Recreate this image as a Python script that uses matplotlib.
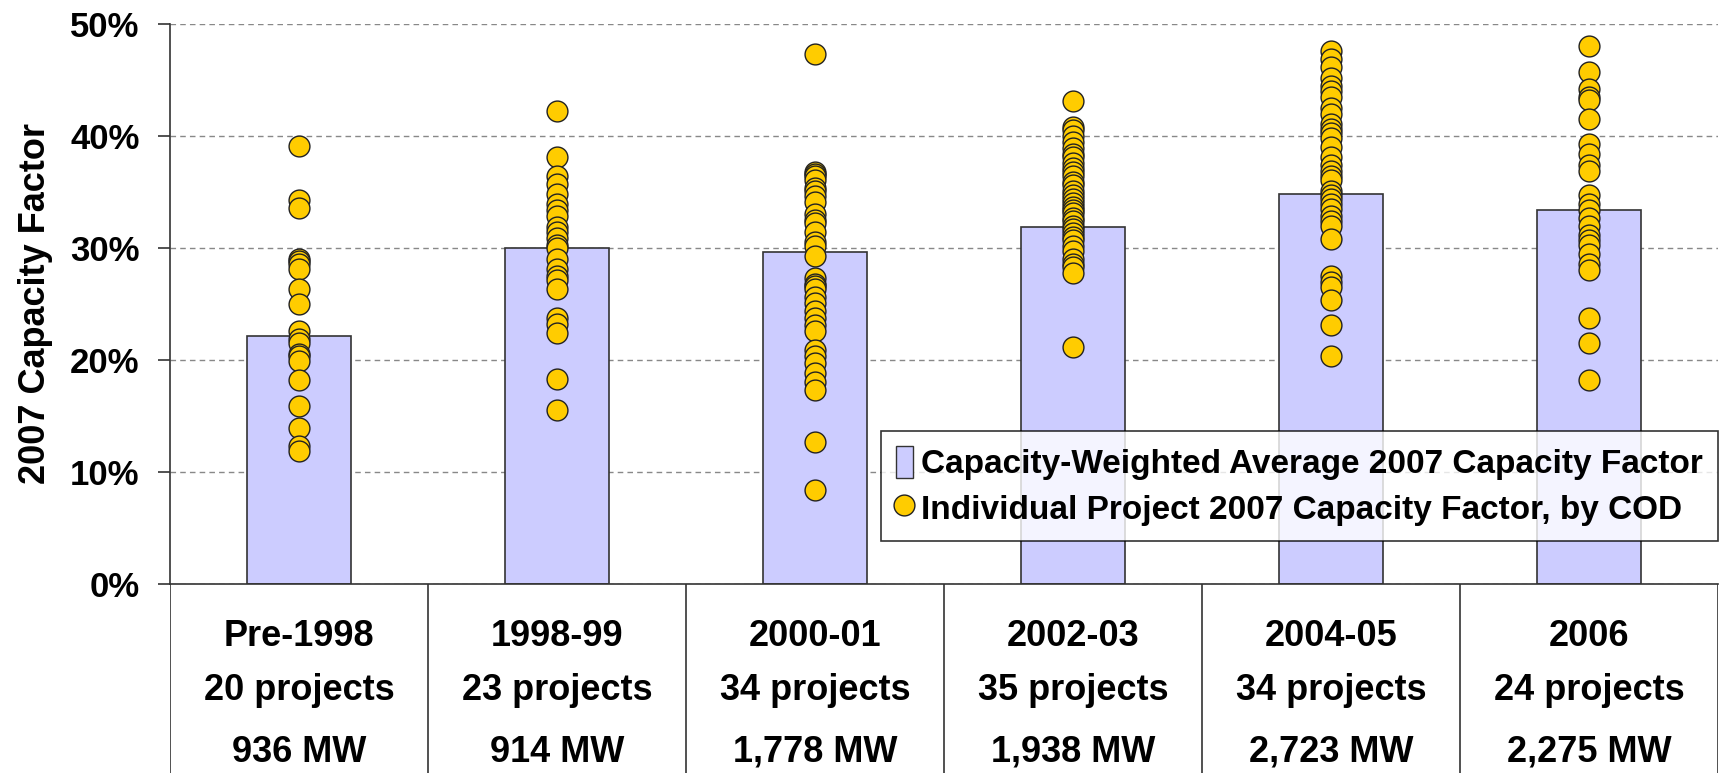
import matplotlib
matplotlib.use('Agg')
import matplotlib.pyplot as plt
from matplotlib.ticker import FuncFormatter
from matplotlib.lines import Line2D
from matplotlib.patches import Patch

plt.rcParams['font.family'] = ['Liberation Sans', 'DejaVu Sans']
plt.rcParams['font.weight'] = 'bold'

periods = ['Pre-1998', '1998-99', '2000-01', '2002-03', '2004-05', '2006']
projectCounts = ['20 projects', '23 projects', '34 projects', '35 projects', '34 projects', '24 projects']
capacities = ['936 MW', '914 MW', '1,778 MW', '1,938 MW', '2,723 MW', '2,275 MW']

# capacity-weighted average (bars), in percent
weightedAvg = [22.1, 30.0, 29.6, 31.9, 34.8, 33.4]

# individual project capacity factors, in percent
projPre1998 = [39.1, 34.3, 33.6, 29.05, 28.8, 28.6, 28.1, 26.3, 25.0, 22.6,
               21.9, 21.55, 20.5, 20.4, 19.9, 18.2, 15.9, 13.9, 12.3, 11.9]
proj1998_99 = [42.2, 38.1, 36.4, 35.7, 34.8, 33.9, 33.4, 32.9, 31.9, 31.4,
               30.9, 30.3, 30.0, 29.0, 28.1, 27.5, 27.1, 26.3, 23.75, 23.2,
               22.4, 18.3, 15.5]
proj2000_01 = [47.3, 36.8, 36.6, 36.4, 36.1, 35.4, 35.1, 34.6, 34.1, 33.0,
               32.5, 32.2, 31.4, 30.5, 30.2, 29.3, 27.3, 26.8, 26.6, 26.3,
               25.6, 25.1, 24.4, 23.75, 23.1, 22.6, 20.9, 20.4, 19.7, 18.85,
               18.0, 17.3, 12.7, 8.4]
proj2002_03 = [43.1, 40.8, 40.5, 40.0, 39.5, 38.95, 38.4, 38.1, 37.6, 37.1,
               36.8, 36.4, 35.9, 35.6, 35.1, 34.7, 34.4, 34.05, 33.7, 33.4,
               33.1, 32.7, 32.4, 32.0, 31.7, 31.35, 31.0, 30.7, 30.2, 29.7,
               29.0, 28.6, 28.3, 27.8, 21.2]
proj2004_05 = [47.6, 46.9, 46.2, 45.2, 44.5, 44.0, 43.5, 42.5, 42.0, 41.1,
               40.6, 40.3, 39.8, 39.0, 38.1, 37.4, 36.9, 36.4, 36.1, 35.1,
               34.7, 34.4, 33.9, 33.5, 32.9, 32.4, 32.0, 30.8, 27.5, 27.0,
               26.5, 25.4, 23.1, 20.4]
proj2006 = [48.0, 45.7, 44.2, 43.5, 43.2, 41.5, 39.3, 38.4, 37.4, 36.9,
            34.7, 33.9, 33.4, 32.7, 32.0, 31.2, 30.7, 30.3, 29.5, 28.6,
            28.0, 23.75, 21.55, 18.2]
projectValues = [projPre1998, proj1998_99, proj2000_01, proj2002_03, proj2004_05, proj2006]

barColor = '#CCCCFF'
dotColor = '#FFCC00'

fig = plt.figure(figsize=(17.21, 7.73), dpi=100)
axLeft = 170 / 1721
axRight = 1718 / 1721
axBottom = 1 - 584 / 773
axTop = 1 - 24 / 773
ax = fig.add_axes([axLeft, axBottom, axRight - axLeft, axTop - axBottom])

xs = range(len(periods))
ax.bar(xs, weightedAvg, width=0.4, color=barColor, edgecolor='#333333', linewidth=1.2, zorder=2)
for i in xs:
    ax.plot([i] * len(projectValues[i]), projectValues[i], 'o', markersize=15,
            markerfacecolor=dotColor, markeredgecolor='#222222', markeredgewidth=1, zorder=3)

ax.set_xlim(-0.5, len(periods) - 0.5)
ax.set_ylim(0, 50)
ax.set_yticks([0, 10, 20, 30, 40, 50])
ax.yaxis.set_major_formatter(FuncFormatter(lambda v, p: '%d%%' % v))
ax.set_xticks([])
ax.grid(axis='y', color='#888888', linestyle=(0, (4, 3)), linewidth=1, zorder=0)
ax.spines['top'].set_visible(False)
ax.spines['right'].set_visible(False)
ax.spines['left'].set_color('#333333')
ax.spines['bottom'].set_color('#333333')
ax.spines['left'].set_linewidth(1.2)
ax.spines['bottom'].set_linewidth(1.2)
ax.tick_params(axis='y', direction='out', length=9, width=1.2, color='#333333',
               labelsize=25, pad=13)
ax.set_ylabel('2007 Capacity Factor', fontsize=26, fontweight='bold', labelpad=12)

handles = [Patch(facecolor=barColor, edgecolor='#333333', linewidth=1),
           Line2D([], [], marker='o', linestyle='', markersize=15,
                  markerfacecolor=dotColor, markeredgecolor='#222222')]
labels = ['Capacity-Weighted Average 2007 Capacity Factor',
          'Individual Project 2007 Capacity Factor, by COD']
leg = ax.legend(handles, labels, loc='lower right', bbox_to_anchor=(1.0, 0.077),
                fontsize=24, frameon=True, fancybox=False, edgecolor='black',
                handlelength=0.5, handleheight=1.1, handletextpad=0.25,
                borderpad=0.45, labelspacing=0.35, borderaxespad=0)
leg.get_frame().set_linewidth(1.2)

# category table below the chart
tab = fig.add_axes([axLeft, 0, axRight - axLeft, axBottom])
tab.set_xlim(-0.5, len(periods) - 0.5)
tab.set_ylim(0, 1)
tab.axis('off')
for b in range(len(periods) + 1):
    tab.axvline(b - 0.5, color='#333333', linewidth=1.2)
for i in xs:
    tab.text(i, 0.72, periods[i], ha='center', va='center', fontsize=26, fontweight='bold')
    tab.text(i, 0.434, projectCounts[i], ha='center', va='center', fontsize=26, fontweight='bold')
    tab.text(i, 0.111, capacities[i], ha='center', va='center', fontsize=26, fontweight='bold')

fig.savefig('out.png', dpi=100)
